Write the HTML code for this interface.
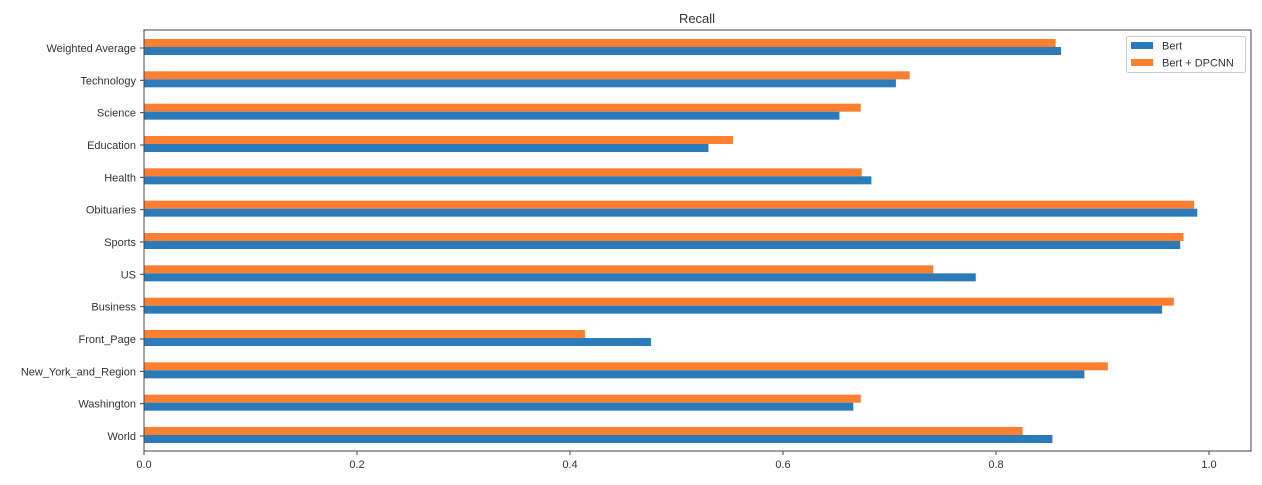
<!DOCTYPE html>
<html><head><meta charset="utf-8"><style>
body{margin:0;background:#fff;}
svg text{font-family:"Liberation Sans","DejaVu Sans",sans-serif;fill:#333;}
</style></head><body>
<svg id="chart" width="1262" height="480">
<text x="697" y="23" font-size="13" text-anchor="middle">Recall</text>
<g id="bars"></g>
<g id="yaxis"></g>
<g id="xaxis"></g>
<rect x="144" y="30" width="1107" height="421" fill="none" stroke="#444" stroke-width="1"/>
<g>
<rect x="1126.5" y="36.5" width="119" height="36" fill="#fff" stroke="#ccc" rx="2"/>
<rect x="1131" y="42" width="22" height="7" fill="#2b7bba"/>
<text x="1162" y="49.5" font-size="11">Bert</text>
<rect x="1131" y="59" width="22" height="7" fill="#ff7f31"/>
<text x="1162" y="66.5" font-size="11">Bert + DPCNN</text>
</g>
</svg>
<script>
const categories=["Weighted Average","Technology","Science","Education","Health","Obituaries","Sports","US","Business","Front_Page","New_York_and_Region","Washington","World"];
const bertValues=[0.861,0.706,0.653,0.530,0.683,0.989,0.973,0.781,0.956,0.476,0.883,0.666,0.853];
const dpcnnValues=[0.856,0.719,0.673,0.553,0.674,0.986,0.976,0.741,0.967,0.414,0.905,0.673,0.825];
const xTicks=[0,0.2,0.4,0.6,0.8,1.0];
const xTickLabels=["0.0","0.2","0.4","0.6","0.8","1.0"];
const NS="http://www.w3.org/2000/svg";
const x0=144,xScale=1065;
const X=v=>x0+v*xScale;
const yTop=47,yStep=(435-47)/12;
const Y=i=>yTop+i*yStep;
const bars=document.getElementById('bars'),ya=document.getElementById('yaxis'),xa=document.getElementById('xaxis');
function mk(tag,attrs){const e=document.createElementNS(NS,tag);for(const k in attrs)e.setAttribute(k,attrs[k]);return e;}
categories.forEach((c,i)=>{
  const cy=Y(i);
  const o=mk('rect',{x:X(0),y:cy-8,width:X(dpcnnValues[i])-X(0),height:8,fill:'#ff7f31'});
  
  
  bars.appendChild(o);
  const b=mk('rect',{x:X(0),y:cy,width:X(bertValues[i])-X(0),height:8,fill:'#2b7bba'});
  
  
  bars.appendChild(b);
  const t=mk('line',{x1:140,x2:144,y1:cy+1,y2:cy+1,stroke:'#444'});
  
  
  ya.appendChild(t);
  const l=mk('text',{x:136,y:cy+5,'font-size':11,'text-anchor':'end'});
  l.textContent=c;
  
  
  ya.appendChild(l);
});
xTicks.forEach((v,i)=>{
  const t=mk('line',{x1:X(v),x2:X(v),y1:451,y2:455,stroke:'#444'});
  
  
  xa.appendChild(t);
  const l=mk('text',{x:X(v),y:468,'font-size':11,'text-anchor':'middle'});
  l.textContent=xTickLabels[i];
  
  
  xa.appendChild(l);
});
</script>
</body></html>
